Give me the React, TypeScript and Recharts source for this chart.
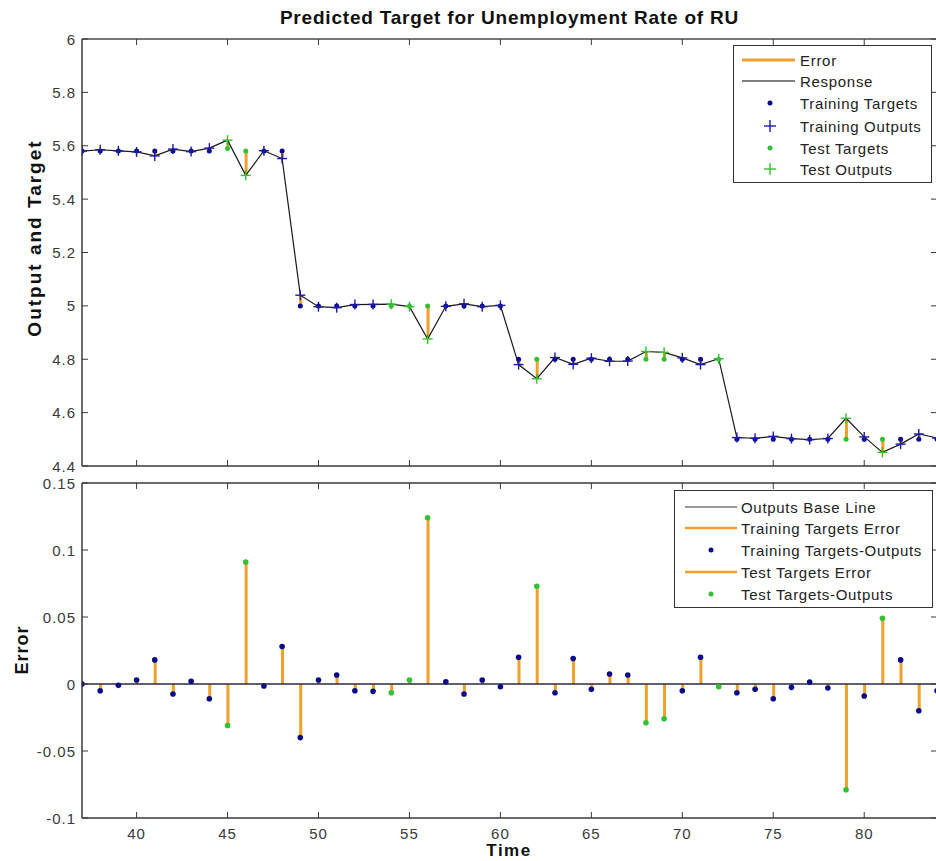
import React from 'react';
import { ComposedChart, Line, Bar, Scatter, XAxis, YAxis, ReferenceLine, Legend } from 'recharts';

const FONT = '"Liberation Sans", Arial, Helvetica, sans-serif';

const times = [37, 38, 39, 40, 41, 42, 43, 44, 45, 46, 47, 48, 49, 50, 51, 52, 53, 54, 55, 56, 57, 58, 59, 60,
  61, 62, 63, 64, 65, 66, 67, 68, 69, 70, 71, 72, 73, 74, 75, 76, 77, 78, 79, 80, 81, 82, 83, 84];
const targets = [5.58, 5.58, 5.58, 5.58, 5.58, 5.58, 5.58, 5.58, 5.59, 5.58, 5.58, 5.58,
  5.0, 5.0, 5.0, 5.0, 5.0, 5.0, 5.0, 5.0, 5.0, 5.0, 5.0, 5.0,
  4.8, 4.8, 4.8, 4.8, 4.8, 4.8, 4.8, 4.8, 4.8, 4.8, 4.8, 4.8,
  4.5, 4.5, 4.5, 4.5, 4.5, 4.5, 4.5, 4.5, 4.5, 4.5, 4.5, 4.5];
const outputs = [5.58, 5.585, 5.581, 5.577, 5.562, 5.5875, 5.578, 5.591, 5.621, 5.489, 5.5815, 5.552,
  5.04, 4.997, 4.9933, 5.005, 5.0055, 5.0065, 4.997, 4.876, 4.9983, 5.0075, 4.997, 5.002,
  4.78, 4.727, 4.8065, 4.781, 4.804, 4.7925, 4.7933, 4.829, 4.826, 4.805, 4.78, 4.802,
  4.5065, 4.504, 4.511, 4.5025, 4.4985, 4.503, 4.579, 4.509, 4.451, 4.482, 4.52, 4.505];
const errors = [0, -0.005, -0.001, 0.003, 0.018, -0.0075, 0.002, -0.011, -0.031, 0.091, -0.0015, 0.028,
  -0.04, 0.003, 0.0067, -0.005, -0.0055, -0.0065, 0.003, 0.124, 0.0017, -0.0075, 0.003, -0.002,
  0.02, 0.073, -0.0065, 0.019, -0.004, 0.0075, 0.0067, -0.029, -0.026, -0.005, 0.02, -0.002,
  -0.0065, -0.004, -0.011, -0.0025, 0.0015, -0.003, -0.079, -0.009, 0.049, 0.018, -0.02, -0.005];
const testTimes = [45, 46, 54, 55, 56, 62, 68, 69, 72, 79, 81];
const xTicks = [40, 45, 50, 55, 60, 65, 70, 75, 80];
const topYTicks = [4.4, 4.6, 4.8, 5, 5.2, 5.4, 5.6, 5.8, 6];
const errYTicks = [-0.1, -0.05, 0, 0.05, 0.1, 0.15];

const NAVY = '#0a0a86';
const PLUS_BLUE = '#1a1aa8';
const GREEN = '#33c033';
const ORANGE = '#f0a02c';
const AXIS = '#3a3a3a';
const TICK_TEXT = '#3a3a3a';

const rows = times.map((t, i) => ({
  t,
  target: targets[i],
  output: outputs[i],
  range: [outputs[i], targets[i]],
  error: errors[i],
  test: testTimes.includes(t),
}));
const trainRows = rows.filter((r) => !r.test);
const testRows = rows.filter((r) => r.test);

const Dot = (color: string, r: number) => (p: any) =>
  p.cx == null || p.cy == null ? <g /> : <circle cx={p.cx} cy={p.cy} r={r} fill={color} stroke="none" />;
const Plus = (color: string, s: number) => (p: any) =>
  p.cx == null || p.cy == null ? <g /> : (
    <g stroke={color} strokeWidth={1.4}>
      <line x1={p.cx - s} y1={p.cy} x2={p.cx + s} y2={p.cy} />
      <line x1={p.cx} y1={p.cy - s} x2={p.cx} y2={p.cy + s} />
    </g>
  );

const BottomTick = (showLabel: boolean) => (p: any) => (
  <g>
    <line x1={p.x} y1={p.y} x2={p.x} y2={p.y - 6} stroke={AXIS} strokeWidth={1} />
    {showLabel && (
      <text x={p.x} y={p.y + 15} textAnchor="middle" dominantBaseline="central" fontSize={15}
        letterSpacing={1} fontFamily={FONT} fill={TICK_TEXT}>{p.payload.value}</text>
    )}
  </g>
);
const TopTick = (p: any) => (
  <line x1={p.x} y1={p.y} x2={p.x} y2={p.y + 6} stroke={AXIS} strokeWidth={1} />
);
const LeftTick = (p: any) => (
  <g>
    <line x1={p.x} y1={p.y} x2={p.x + 6} y2={p.y} stroke={AXIS} strokeWidth={1} />
    <text x={p.x - 6} y={p.y} textAnchor="end" dominantBaseline="central" fontSize={15}
      letterSpacing={1} fontFamily={FONT} fill={TICK_TEXT}>{p.payload.value}</text>
  </g>
);
const RightTick = (p: any) => (
  <line x1={p.x} y1={p.y} x2={p.x - 6} y2={p.y} stroke={AXIS} strokeWidth={1} />
);

const legendText = (x: number, y: number, s: string) => (
  <text x={x} y={y} dominantBaseline="central" fontSize={15} letterSpacing={0.7} fontFamily={FONT}
    fill="#222">{s}</text>
);

const TopLegend = () => (
  <svg width={200} height={139} style={{ display: 'block' }}>
    <rect x={0.5} y={0.5} width={198} height={137} fill="#fff" stroke="#333" strokeWidth={1} />
    <line x1={9} y1={15} x2={62} y2={15} stroke={ORANGE} strokeWidth={3} />
    {legendText(67, 15, 'Error')}
    <line x1={9} y1={36} x2={62} y2={36} stroke="#555" strokeWidth={1.3} />
    {legendText(67, 36, 'Response')}
    <circle cx={37} cy={58} r={2.5} fill={NAVY} />
    {legendText(67, 58, 'Training Targets')}
    <g stroke={PLUS_BLUE} strokeWidth={1.4}>
      <line x1={31} y1={81} x2={43} y2={81} />
      <line x1={37} y1={75} x2={37} y2={87} />
    </g>
    {legendText(67, 81, 'Training Outputs')}
    <circle cx={37} cy={103} r={2.5} fill={GREEN} />
    {legendText(67, 103, 'Test Targets')}
    <g stroke={GREEN} strokeWidth={1.4}>
      <line x1={31} y1={124} x2={43} y2={124} />
      <line x1={37} y1={118} x2={37} y2={130} />
    </g>
    {legendText(67, 124, 'Test Outputs')}
  </svg>
);

const BottomLegend = () => (
  <svg width={260} height={119} style={{ display: 'block' }}>
    <rect x={0.5} y={0.5} width={258} height={117} fill="#fff" stroke="#333" strokeWidth={1} />
    <line x1={11} y1={17} x2={63} y2={17} stroke="#9a9a9a" strokeWidth={2} />
    {legendText(67, 17, 'Outputs Base Line')}
    <line x1={11} y1={38} x2={63} y2={38} stroke={ORANGE} strokeWidth={2.5} />
    {legendText(67, 38, 'Training Targets Error')}
    <circle cx={37} cy={60} r={2.5} fill={NAVY} />
    {legendText(67, 60, 'Training Targets-Outputs')}
    <line x1={11} y1={82} x2={63} y2={82} stroke={ORANGE} strokeWidth={2.5} />
    {legendText(67, 82, 'Test Targets Error')}
    <circle cx={37} cy={104} r={2.5} fill={GREEN} />
    {legendText(67, 104, 'Test Targets-Outputs')}
  </svg>
);

const labelStyle: React.CSSProperties = {
  position: 'absolute',
  fontFamily: FONT,
  fontWeight: 'bold',
  color: '#111',
  whiteSpace: 'nowrap',
  lineHeight: 1,
};

export default function App() {
  return (
    <div style={{ position: 'absolute', left: 0, top: 0, width: 936, height: 861, overflow: 'hidden', background: '#fff' }}>
      <div style={{ ...labelStyle, left: 82, width: 855, top: 8, textAlign: 'center', fontSize: 19, letterSpacing: 0.8 }}>
        Predicted Target for Unemployment Rate of RU
      </div>
      <div style={{ ...labelStyle, left: 34, top: 238, fontSize: 19, letterSpacing: 2, transform: 'translate(-50%, -50%) rotate(-90deg)' }}>
        Output and Target
      </div>
      <div style={{ ...labelStyle, left: 22, top: 650, fontSize: 18, letterSpacing: 1, transform: 'translate(-50%, -50%) rotate(-90deg)' }}>
        Error
      </div>
      <div style={{ ...labelStyle, left: 509, top: 850, fontSize: 17, letterSpacing: 1.5, transform: 'translate(-50%, -50%)' }}>
        Time
      </div>

      <div style={{ position: 'absolute', left: 0, top: 0 }}>
        <ComposedChart width={940} height={480} data={rows} margin={{ top: 38, right: 2, bottom: 13, left: 81 }}>
          <XAxis dataKey="t" type="number" domain={[37, 84]} ticks={xTicks} interval={0} height={1}
            tickSize={0} tickMargin={0} tickLine={false} tick={BottomTick(false)}
            axisLine={{ stroke: AXIS, strokeWidth: 1.5 }} allowDataOverflow />
          <XAxis xAxisId="top" orientation="top" dataKey="t" type="number" domain={[37, 84]} ticks={xTicks}
            interval={0} height={1} tickSize={0} tickMargin={0} tickLine={false} tick={TopTick}
            axisLine={{ stroke: '#777', strokeWidth: 2 }} allowDataOverflow />
          <YAxis type="number" domain={[4.4, 6]} ticks={topYTicks} interval={0} width={1}
            tickSize={0} tickMargin={0} tickLine={false} tick={LeftTick}
            axisLine={{ stroke: AXIS, strokeWidth: 1.5 }} allowDataOverflow />
          <YAxis yAxisId="right" orientation="right" type="number" domain={[4.4, 6]} ticks={topYTicks}
            interval={0} width={1} tickSize={0} tickMargin={0} tickLine={false} tick={RightTick}
            axisLine={{ stroke: AXIS, strokeWidth: 1.5 }} allowDataOverflow />
          <Bar dataKey="range" barSize={3} fill={ORANGE} isAnimationActive={false} />
          <Line dataKey="output" type="linear" stroke="#1a1a1a" strokeWidth={1.2} dot={false}
            activeDot={false} isAnimationActive={false} />
          <Scatter data={trainRows} dataKey="target" shape={Dot(NAVY, 2.5)} isAnimationActive={false} />
          <Scatter data={trainRows} dataKey="output" shape={Plus(PLUS_BLUE, 5)} isAnimationActive={false} />
          <Scatter data={testRows} dataKey="target" shape={Dot(GREEN, 2.5)} isAnimationActive={false} />
          <Scatter data={testRows} dataKey="output" shape={Plus(GREEN, 5)} isAnimationActive={false} />
          <Legend layout="vertical" align="center" verticalAlign="middle" content={TopLegend}
            wrapperStyle={{ position: 'absolute', left: 733, top: 45, width: 200, height: 139 }} />
        </ComposedChart>
      </div>

      <div style={{ position: 'absolute', left: 0, top: 470 }}>
        <ComposedChart width={940} height={391} data={rows} margin={{ top: 12, right: 2, bottom: 42, left: 81 }}>
          <XAxis dataKey="t" type="number" domain={[37, 84]} ticks={xTicks} interval={0} height={1}
            tickSize={0} tickMargin={0} tickLine={false} tick={BottomTick(true)}
            axisLine={{ stroke: AXIS, strokeWidth: 1.5 }} allowDataOverflow />
          <XAxis xAxisId="top" orientation="top" dataKey="t" type="number" domain={[37, 84]} ticks={xTicks}
            interval={0} height={1} tickSize={0} tickMargin={0} tickLine={false} tick={TopTick}
            axisLine={{ stroke: AXIS, strokeWidth: 1.5 }} allowDataOverflow />
          <YAxis type="number" domain={[-0.1, 0.15]} ticks={errYTicks} interval={0} width={1}
            tickSize={0} tickMargin={0} tickLine={false} tick={LeftTick}
            axisLine={{ stroke: AXIS, strokeWidth: 1.5 }} allowDataOverflow />
          <YAxis yAxisId="right" orientation="right" type="number" domain={[-0.1, 0.15]} ticks={errYTicks}
            interval={0} width={1} tickSize={0} tickMargin={0} tickLine={false} tick={RightTick}
            axisLine={{ stroke: AXIS, strokeWidth: 1.5 }} allowDataOverflow />
          <Bar dataKey="error" barSize={3} fill={ORANGE} isAnimationActive={false} />
          <ReferenceLine y={0} stroke="#2a2a44" strokeWidth={1.5} />
          <Scatter data={trainRows} dataKey="error" shape={Dot(NAVY, 2.8)} isAnimationActive={false} />
          <Scatter data={testRows} dataKey="error" shape={Dot(GREEN, 2.8)} isAnimationActive={false} />
          <Legend layout="vertical" align="center" verticalAlign="middle" content={BottomLegend}
            wrapperStyle={{ position: 'absolute', left: 674, top: 20, width: 260, height: 119 }} />
        </ComposedChart>
      </div>
    </div>
  );
}
